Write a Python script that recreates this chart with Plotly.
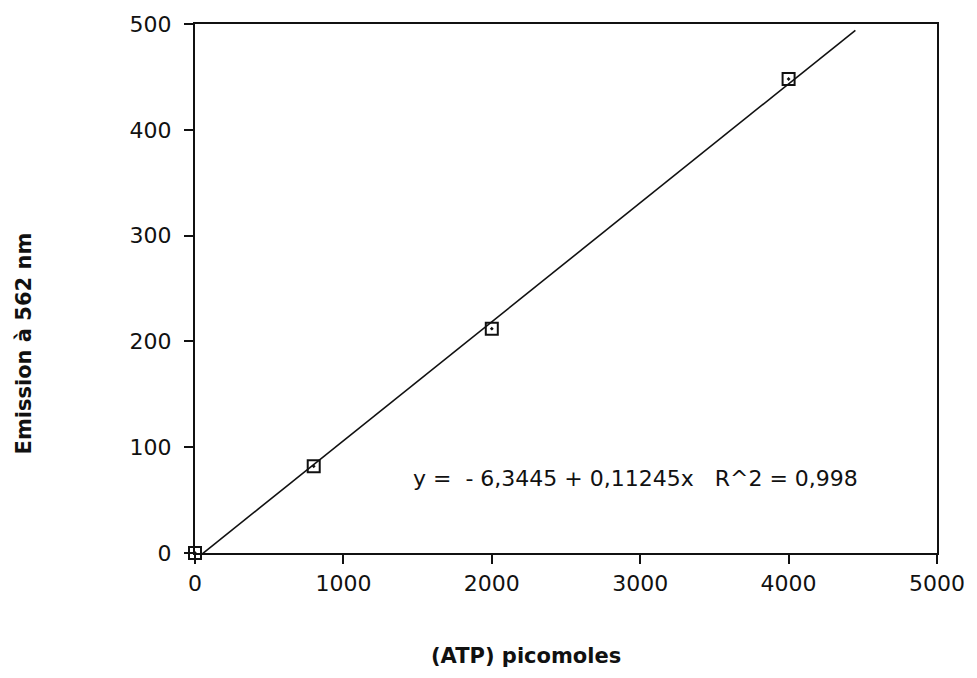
import plotly.graph_objects as go

# Data
atp_pmol = [0, 800, 2000, 4000]
emission = [0, 82, 212, 448]
fit_intercept = -6.3445
fit_slope = 0.11245
fit_x_range = [0, 4450]
fit_y = [fit_intercept + fit_slope * v for v in fit_x_range]

x_ticks = [0, 1000, 2000, 3000, 4000, 5000]
y_ticks = [0, 100, 200, 300, 400, 500]

fig = go.Figure()
fig.add_trace(go.Scatter(x=fit_x_range, y=fit_y, mode="lines",
                         line=dict(color="#111", width=1.6), showlegend=False))
fig.add_trace(go.Scatter(x=atp_pmol, y=emission, mode="markers",
                         marker=dict(symbol="square-open-dot", size=12, color="#111",
                                     line=dict(width=2, color="#111")),
                         cliponaxis=False, showlegend=False))

axis_common = dict(showline=True, linecolor="#111", linewidth=2, mirror=True,
                   ticks="outside", ticklen=9, tickwidth=2, tickcolor="#111",
                   showgrid=False, zeroline=False,
                   tickfont=dict(family="DejaVu Sans", size=22, color="#111"))

fig.update_xaxes(range=[0, 5000], tickvals=x_ticks, ticktext=[str(v) for v in x_ticks],
                 ticklabelstandoff=1, **axis_common)
fig.update_yaxes(range=[0, 500], tickvals=y_ticks, ticktext=[str(v) for v in y_ticks],
                 ticklabelstandoff=8, **axis_common)

fig.add_annotation(x=2966, y=70, xref="x", yref="y",
                   text="y =  - 6,3445 + 0,11245x   R^2 = 0,998", showarrow=False,
                   font=dict(family="DejaVu Sans", size=22, color="#111"))
fig.add_annotation(x=(527 - 195) / (939 - 195), y=-(657 - 553) / (553 - 19),
                   xref="paper", yref="paper", text="<b>(ATP) picomoles</b>",
                   xanchor="center", yanchor="middle", showarrow=False,
                   font=dict(family="DejaVu Sans", size=21, color="#111"))
fig.add_annotation(x=-(195 - 24) / (939 - 195), y=(553 - 341) / (553 - 19),
                   xref="paper", yref="paper", text="<b>Emission à 562 nm</b>",
                   xanchor="center", yanchor="middle",
                   textangle=-90, showarrow=False,
                   font=dict(family="DejaVu Sans", size=21, color="#111"))

fig.update_layout(width=977, height=678, margin=dict(l=195, r=38, t=19, b=125),
                  plot_bgcolor="white", paper_bgcolor="white")
fig.write_html("out.html")
